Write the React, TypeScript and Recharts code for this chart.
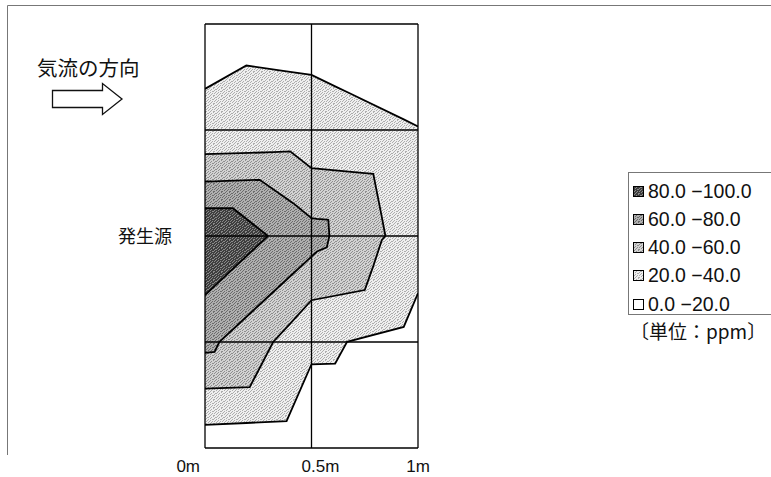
import React from 'react'
import { ComposedChart, Area, XAxis, YAxis, ReferenceLine } from 'recharts'

// contour edges: x in m, y in m from the source line (top = +1)
const c20X = [0, 0.194, 0.383, 0.5, 0.611, 0.667, 0.933, 1]
const c20Upper = [0.694, 0.804, 0.777, 0.76, 0.706, 0.679, 0.55, 0.517]
const c20Lower = [-0.891, -0.882, -0.873, -0.605, -0.602, -0.499, -0.429, -0.27]

const c40X = [0, 0.21, 0.32, 0.4, 0.5, 0.75, 0.79, 0.83, 0.847]
const c40Upper = [0.386, 0.392, 0.396, 0.399, 0.32, 0.297, 0.293, 0.09, 0]
const c40Lower = [-0.72, -0.713, -0.5, -0.413, -0.303, -0.255, -0.142, -0.02, 0]

const c60X = [0, 0.045, 0.068, 0.257, 0.414, 0.5, 0.526, 0.572, 0.579, 0.584]
const c60Upper = [0.257, 0.258, 0.259, 0.265, 0.155, 0.084, 0.081, 0.077, 0.076, 0]
const c60Lower = [-0.551, -0.547, -0.499, -0.323, -0.177, -0.097, -0.073, -0.054, -0.022, 0]

const c80X = [0, 0.131, 0.296]
const c80Upper = [0.131, 0.131, 0]
const c80Lower = [-0.279, -0.155, 0]

const levelLabels = ['80.0 −100.0', '60.0 −80.0', '40.0 −60.0', '20.0 −40.0', '0.0 −20.0']
const xTicks = [0, 0.5, 1]
const xTickLabels = ['0m', '0.5m', '1m']
const yLines = [-1, -0.5, 0, 0.5, 1]

// stipple tiles: background + dot colour, darkest level first
const TONES = [
  { bg: '#3e3e3e', dot: '#8a8a8a' },
  { bg: '#b0b0b0', dot: '#6c6c6c' },
  { bg: '#d2d2d2', dot: '#8e8e8e' },
  { bg: '#efefef', dot: '#adadad' },
]
// scattered dot columns per row of an 8x8 tile
const DOT_ROWS = [[1, 5], [0, 3, 7], [2, 6], [0, 4, 5], [2, 7], [1, 4, 6], [0, 3], [2, 5, 6]]
const FILL = ['url(#st0)', 'url(#st1)', 'url(#st2)', 'url(#st3)', '#ffffff']
const JP = '"Noto Sans CJK JP", "Liberation Sans", sans-serif'
const NUM = '"Liberation Sans", Arial, sans-serif'

const rows = (xs: number[], lo: number[], hi: number[]) =>
  xs.map((x, i) => ({ x, r: [lo[i], hi[i]] }))

const contours = [
  { key: 'c20', data: rows(c20X, c20Lower, c20Upper), fill: FILL[3] },
  { key: 'c40', data: rows(c40X, c40Lower, c40Upper), fill: FILL[2] },
  { key: 'c60', data: rows(c60X, c60Lower, c60Upper), fill: FILL[1] },
  { key: 'c80', data: rows(c80X, c80Lower, c80Upper), fill: FILL[0] },
]

function StippleDefs() {
  return (
    <defs>
      {TONES.map((t, i) => (
        <pattern key={i} id={'st' + i} width={8} height={8} patternUnits="userSpaceOnUse">
          <rect width={8} height={8} fill={t.bg} />
          {DOT_ROWS.map((cols, y) =>
            cols.map((x) => <rect key={x + '-' + y} x={x} y={y} width={1} height={1} fill={t.dot} />)
          )}
        </pattern>
      ))}
    </defs>
  )
}

// label placement copied from the original axis (labels sit off-centre)
const tickPlace: { anchor: 'end' | 'start' | 'middle'; dx: number }[] = [
  { anchor: 'end', dx: -5 },
  { anchor: 'start', dx: -10 },
  { anchor: 'middle', dx: 0 },
]

function XTick(props: any) {
  const { x, y, payload } = props
  const i = xTicks.indexOf(payload.value)
  const p = tickPlace[i] ?? tickPlace[2]
  return (
    <text x={x + p.dx} y={y + 16} textAnchor={p.anchor} fontSize={17} fontFamily={NUM} fill="#111">
      {xTickLabels[i]}
    </text>
  )
}

function LegendBox() {
  return (
    <div style={{ position: 'absolute', left: 628, top: 172, width: 143, height: 143, border: '1px solid #777', borderRight: 'none', boxSizing: 'border-box' }}>
      {levelLabels.map((label, i) => (
        <div key={label} style={{ position: 'absolute', left: 4, top: 6 + i * 28.3, height: 24, display: 'flex', alignItems: 'center' }}>
          <svg width={11} height={11} style={{ marginRight: 4 }}>
            <rect x={0.5} y={0.5} width={10} height={10} fill={FILL[i]} stroke="#000" strokeWidth={1} />
          </svg>
          <span style={{ fontFamily: NUM, fontSize: 19.5, color: '#111', whiteSpace: 'nowrap' }}>{label}</span>
        </div>
      ))}
    </div>
  )
}

export default function App() {
  return (
    <div style={{ position: 'absolute', left: 0, top: 0, width: 771, height: 477, background: '#fff', overflow: 'hidden' }}>
      <svg width={771} height={477} style={{ position: 'absolute', left: 0, top: 0 }}>
        <StippleDefs />
        <path d="M7.5 455 V5.5 H771" fill="none" stroke="#777" strokeWidth={1} />
        <text x={37} y={76} fontSize={20.5} fontFamily={JP} fill="#111">気流の方向</text>
        <path d="M52.5 90.5 H102.5 V83.5 L122 99 L102.5 114.5 V107.5 H52.5 Z" fill="#fff" stroke="#111" strokeWidth={1.3} />
        <text x={118} y={243} fontSize={18} fontFamily={JP} fill="#111">発生源</text>
        <text x={630} y={339} fontSize={19} fontFamily={JP} fill="#111">〔単位：ppm〕</text>
      </svg>

      <ComposedChart
        width={771}
        height={477}
        margin={{ top: 24, right: 353, bottom: 0, left: 205 }}
        style={{ position: 'absolute', left: 0, top: 0 }}
      >
        <XAxis
          type="number"
          dataKey="x"
          domain={[0, 1]}
          ticks={xTicks}
          allowDataOverflow
          axisLine={false}
          tickLine={false}
          height={29}
          tick={<XTick />}
        />
        <YAxis type="number" domain={[-1, 1]} allowDataOverflow hide />
        {contours.map((c) => (
          <Area
            key={c.key}
            data={c.data}
            dataKey="r"
            type="linear"
            fill={c.fill}
            fillOpacity={1}
            stroke="#000"
            strokeWidth={1.8}
            isAnimationActive={false}
            dot={false}
            activeDot={false}
          />
        ))}
        {xTicks.map((v) => (
          <ReferenceLine key={'x' + v} x={v} stroke="#000" strokeWidth={1.3} />
        ))}
        {yLines.map((v) => (
          <ReferenceLine key={'y' + v} y={v} stroke="#000" strokeWidth={1.3} />
        ))}
      </ComposedChart>

      <LegendBox />
    </div>
  )
}
